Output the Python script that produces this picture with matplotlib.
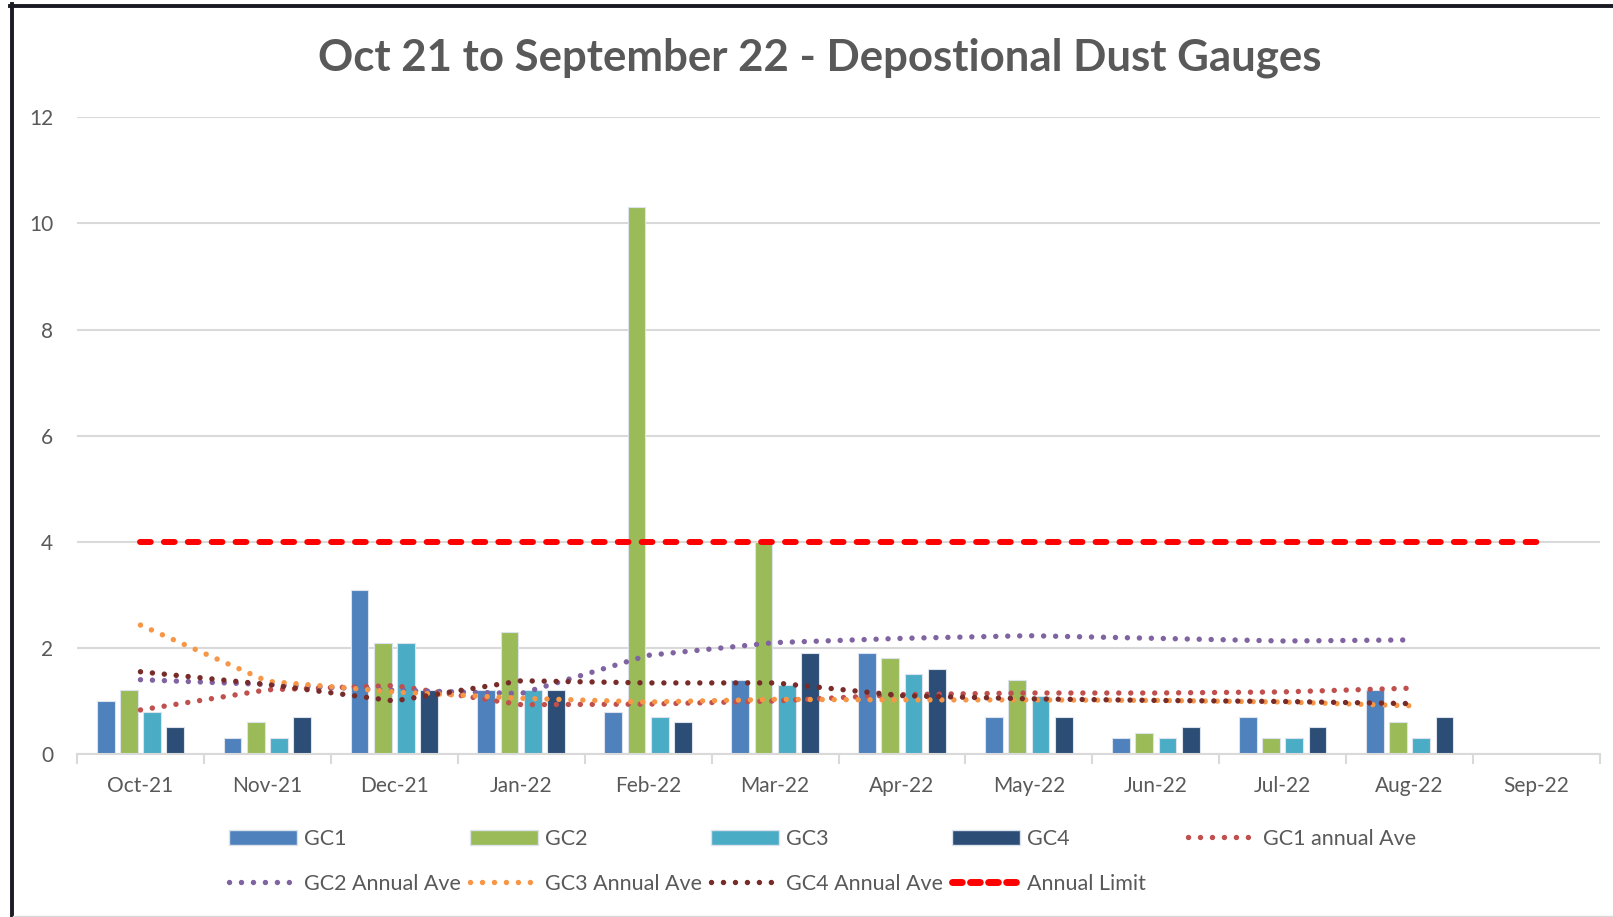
import numpy as np
import matplotlib.pyplot as plt
from matplotlib.lines import Line2D
from matplotlib.patches import Patch

plt.rcParams['font.family'] = ['Lato', 'DejaVu Sans']

# Datos
months = ['Oct-21', 'Nov-21', 'Dec-21', 'Jan-22', 'Feb-22', 'Mar-22',
          'Apr-22', 'May-22', 'Jun-22', 'Jul-22', 'Aug-22', 'Sep-22']
gc1 = [1.0, 0.3, 3.1, 1.2, 0.8, 1.4, 1.9, 0.7, 0.3, 0.7, 1.2, np.nan]
gc2 = [1.2, 0.6, 2.1, 2.3, 10.3, 4.0, 1.8, 1.4, 0.4, 0.3, 0.6, np.nan]
gc3 = [0.8, 0.3, 2.1, 1.2, 0.7, 1.3, 1.5, 1.1, 0.3, 0.3, 0.3, np.nan]
gc4 = [0.5, 0.7, 1.2, 1.2, 0.6, 1.9, 1.6, 0.7, 0.5, 0.5, 0.7, np.nan]

# lineas de tendencia (Oct-21 a Aug-22)
gc1_ave = [0.83, 1.21, 1.29, 0.93, 0.94, 1.00, 1.12, 1.15, 1.15, 1.17, 1.24]
gc2_ave = [1.40, 1.31, 1.20, 1.14, 1.86, 2.10, 2.18, 2.23, 2.18, 2.13, 2.15]
gc3_ave = [2.43, 1.37, 1.17, 1.05, 0.98, 1.03, 1.02, 1.02, 1.01, 0.98, 0.91]
gc4_ave = [1.55, 1.31, 1.00, 1.38, 1.34, 1.34, 1.10, 1.04, 1.01, 0.99, 0.95]
annual_limit = [4] * 12

grey = '#595959'
c_gc1, c_gc2, c_gc3, c_gc4 = '#4F81BD', '#9BBB59', '#4BACC6', '#2C4D75'
c_a1, c_a2, c_a3, c_a4 = '#C0504D', '#8064A2', '#F79646', '#772C2A'

fig = plt.figure(figsize=(16.13, 9.17), dpi=100)
ax = fig.add_axes([77/1613, 163/917, (1600-77)/1613, (754-117.3)/917])

x = np.arange(len(months))
w = 0.14
step = 0.183
for i, (vals, col) in enumerate([(gc1, c_gc1), (gc2, c_gc2), (gc3, c_gc3), (gc4, c_gc4)]):
    ax.bar(x + (i - 1.5) * step, vals, w, color=col, edgecolor='#DCE3EC', linewidth=0.8, zorder=2)

dot = (0, (0.01, 2.2))
xa = x[:len(gc1_ave)]
ax.plot(xa, gc1_ave, color=c_a1, lw=3.9, linestyle=dot, dash_capstyle='round', zorder=3)
ax.plot(xa, gc2_ave, color=c_a2, lw=3.9, linestyle=dot, dash_capstyle='round', zorder=3)
ax.plot(xa, gc3_ave, color=c_a3, lw=3.9, linestyle=dot, dash_capstyle='round', zorder=3)
ax.plot(xa, gc4_ave, color=c_a4, lw=3.9, linestyle=dot, dash_capstyle='round', zorder=3)
ax.plot(x, annual_limit, color='#FF0000', lw=4.3, linestyle=(0, (1.8, 2.2)),
        dash_capstyle='round', zorder=4)

ax.set_xlim(-0.5, 11.5)
ax.set_ylim(0, 12)
ax.set_yticks(range(0, 13, 2))
ax.yaxis.grid(True, color='#D9D9D9', linewidth=1.5, zorder=0)
ax.set_axisbelow(True)
ax.tick_params(axis='y', length=0, pad=17, labelsize=15, labelcolor=grey)

ax.set_xticks(np.arange(-0.5, 12, 1))
ax.set_xticklabels([])
ax.set_xticks(x, minor=True)
ax.set_xticklabels(months, minor=True)
ax.tick_params(axis='x', which='major', length=7, width=1.5, color='#D9D9D9', direction='out')
ax.tick_params(axis='x', which='minor', length=0, pad=15.5, labelsize=15, labelcolor=grey)

for s in ['top', 'right', 'left']:
    ax.spines[s].set_visible(False)
ax.spines['bottom'].set_color('#D9D9D9')
ax.spines['bottom'].set_linewidth(1.5)

fig.text(820/1613, 1 - 58/917, 'Oct 21 to September 22 - Depostional Dust Gauges',
         ha='center', va='center', fontsize=31.5, fontweight='bold', color=grey)

# leyenda
h_gc1 = Patch(facecolor=c_gc1, edgecolor='#DCE3EC')
h_gc2 = Patch(facecolor=c_gc2, edgecolor='#DCE3EC')
h_gc3 = Patch(facecolor=c_gc3, edgecolor='#DCE3EC')
h_gc4 = Patch(facecolor=c_gc4, edgecolor='#DCE3EC')
def dl(c):
    return Line2D([], [], color=c, lw=3.9, linestyle=dot, dash_capstyle='round')
h_lim = Line2D([], [], color='#FF0000', lw=5, linestyle=(0, (1.4, 1.2)), dash_capstyle='round')

handles = [h_gc1, dl(c_a2), h_gc2, dl(c_a3), h_gc3, dl(c_a4), h_gc4, h_lim]
labels = ['GC1', 'GC2 Annual Ave', 'GC2', 'GC3 Annual Ave', 'GC3', 'GC4 Annual Ave', 'GC4', 'Annual Limit']
leg_kw = dict(frameon=False, fontsize=15.5, handlelength=3.15, handletextpad=0.35,
              borderaxespad=0, borderpad=0, labelcolor=grey)
fig.legend(handles, labels, ncol=4, loc='upper left', bbox_to_anchor=(229/1613, 1 - 829/917),
           columnspacing=0.4, labelspacing=1.15, **leg_kw)
fig.legend([dl(c_a1)], ['GC1 annual Ave'], loc='upper left', bbox_to_anchor=(1188/1613, 1 - 829/917),
           **leg_kw)

# marco
fig.add_artist(Line2D([10/1613, 1], [1 - 5.5/917] * 2, color='#1A1A24', lw=2.8))
fig.add_artist(Line2D([11.5/1613] * 2, [0, 1 - 4/917], color='#1A1A24', lw=2.8))
fig.add_artist(Line2D([13/1613, 1], [0.6/917] * 2, color='#D9D9D9', lw=1))

fig.savefig('out.png', dpi=100)
